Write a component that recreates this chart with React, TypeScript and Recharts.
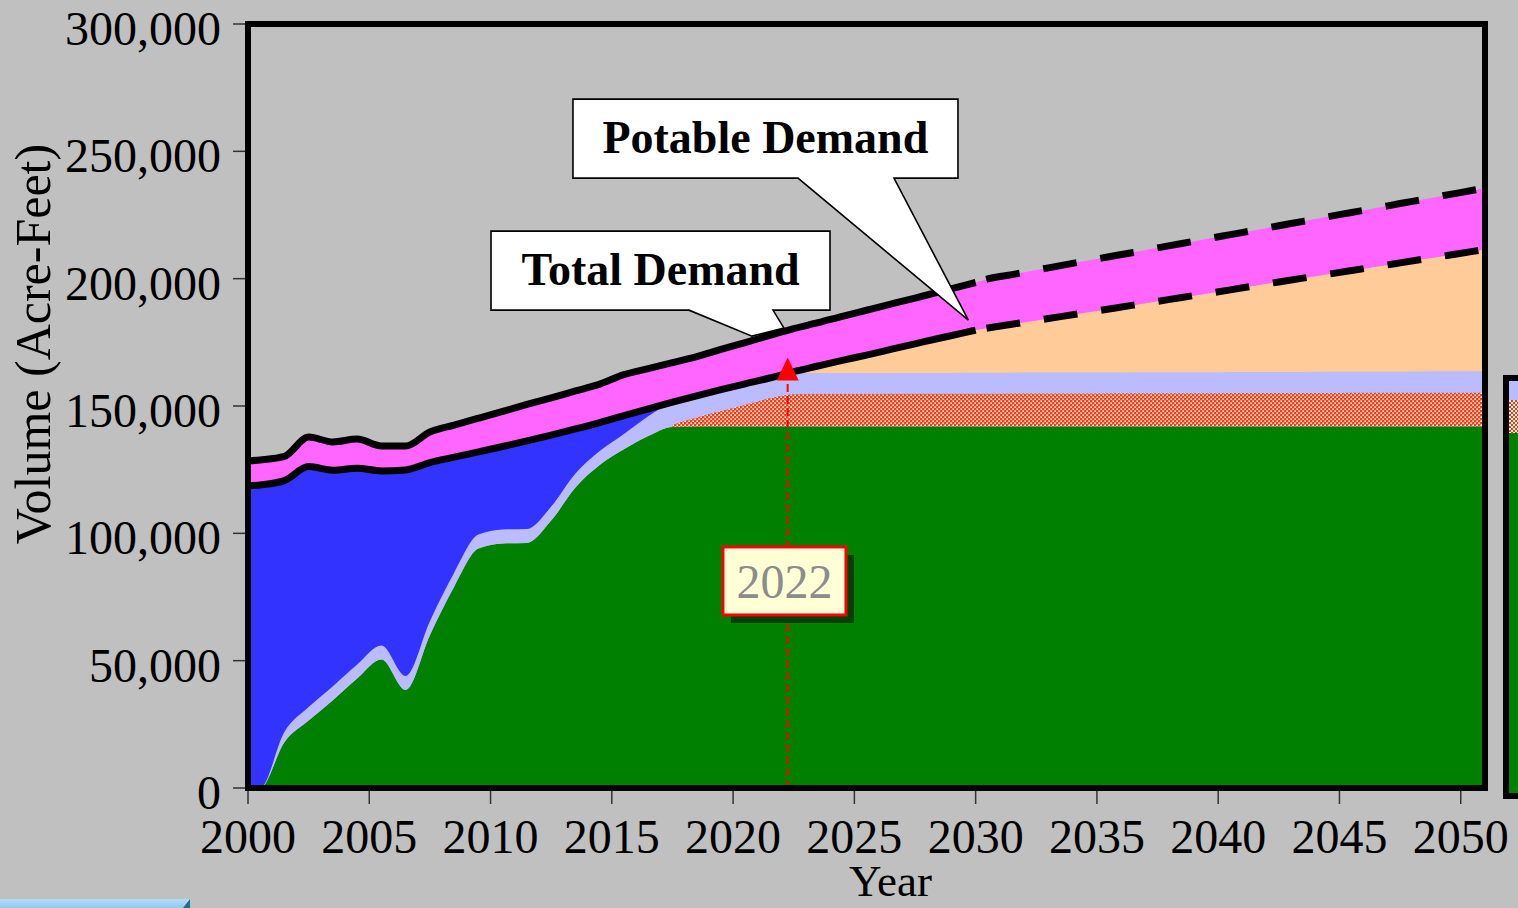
import React from 'react';
import {
  ComposedChart,
  Area,
  Line,
  XAxis,
  YAxis,
  ReferenceArea,
  ReferenceLine,
  ReferenceDot,
  Label,
} from 'recharts';

const FONT = "'Liberation Serif', 'Times New Roman', serif";

// x positions (year midpoints, plus the chart edges and the 2030 projection break)
const X_POS = [
  2000, 2000.5, 2001.5, 2002.5, 2003.5, 2004.5, 2005.5, 2006.5, 2007.5,
  2008.5, 2009.5, 2010.5, 2011.5, 2012.5, 2013.5, 2014.5, 2015.5, 2016.5, 2017.5,
  2018.5, 2019.5, 2020.5, 2021.5, 2022.5, 2023.5, 2024.5, 2025.5, 2026.5, 2027.5,
  2028.5, 2029.5, 2030,
  2030.5, 2031.5, 2032.5, 2033.5, 2034.5, 2035.5, 2036.5, 2037.5, 2038.5, 2039.5,
  2040.5, 2041.5, 2042.5, 2043.5, 2044.5, 2045.5, 2046.5, 2047.5, 2048.5, 2049.5, 2050.5,
  2051,
];

// Total demand (acre-feet)
const TOTAL_DEMAND = [
  128400, 128800, 130200, 137800, 135900, 137000, 134300, 134300, 139800,
  142500, 145200, 147900, 150600, 153200, 155900, 158600, 162300, 164700, 167000,
  169400, 172200, 174900, 177700, 180400, 182700, 185200, 187600, 190000, 192400,
  194800, 197300, 198500,
  199900, 201600, 203400, 205100, 206900, 208600, 210300, 212100, 213800, 215600,
  217300, 219000, 220800, 222500, 224300, 226000, 227700, 229500, 231200, 233000, 234700,
  235600,
];

// Potable demand (acre-feet)
const POTABLE_DEMAND = [
  118600, 119000, 120700, 126200, 124800, 125600, 124500, 124900, 127800,
  129900, 132000, 134100, 136300, 138600, 141000, 143500, 146200, 148900, 151500,
  154000, 156400, 158700, 161000, 163500, 165700, 167900, 170000, 172200, 174400,
  176600, 178700, 179800,
  180600, 182100, 183600, 185100, 186600, 188100, 189600, 191100, 192600, 194100,
  195600, 197200, 198700, 200200, 201700, 203200, 204700, 206200, 207700, 209200, 210700,
  211500,
];

// Green supply (top of green band)
const GREEN_SUPPLY = [
  0, 0, 18000, 26500, 34500, 43000, 50500, 38500, 60000,
  79000, 94000, 96000, 96200, 105000, 118000, 126800, 133000, 138200, 141800,
  142000, 142000, 142000, 142000, 142000, 142000, 142000, 142000, 142000, 142000,
  142000, 142000, 142000,
  142000, 142000, 142000, 142000, 142000, 142000, 142000, 142000, 142000, 142000,
  142000, 142000, 142000, 142000, 142000, 142000, 142000, 142000, 142000, 142000, 142000,
  142000,
];

// Lavender supply (top of lavender band, cumulative)
const LAVENDER_TOP = [
  0, 0, 22000, 31800, 40000, 48500, 56000, 44000, 65500,
  84500, 99500, 101500, 101700, 110500, 123500, 132300, 139000, 146000, 151500,
  154000, 156400, 158700, 161000, 163000, 163000, 163000, 163000, 163000, 163000,
  163000, 163100, 163100,
  163100, 163100, 163200, 163200, 163200, 163200, 163300, 163300, 163300, 163300,
  163400, 163400, 163400, 163400, 163500, 163500, 163500, 163500, 163600, 163600, 163600,
  163600,
];

// Hatched supply (top of hatched band, cumulative; starts in 2017)
const HATCH_TOP: (number | null)[] = [
  null, null, null, null, null, null, null, null, null,
  null, null, null, null, null, null, null, null, null, 142600,
  145500, 148000, 150500, 153000, 154600, 154700, 154700, 154700, 154800, 154800,
  154800, 154800, 154800,
  154800, 154900, 154900, 154900, 154900, 155000, 155000, 155000, 155000, 155000,
  155100, 155100, 155100, 155100, 155100, 155200, 155200, 155200, 155200, 155200, 155200,
  155200,
];

const X_TICKS = [2000, 2005, 2010, 2015, 2020, 2025, 2030, 2035, 2040, 2045, 2050];
const Y_TICKS = [0, 50000, 100000, 150000, 200000, 250000, 300000];
const PROJECTION_START = 2022.5;
const DASH_START = 2030;
const MARKER_YEAR = 2022.25;

const data = X_POS.map((x, i) => ({
  x,
  green: GREEN_SUPPLY[i],
  lav: [GREEN_SUPPLY[i], LAVENDER_TOP[i]],
  hatch: HATCH_TOP[i] == null ? null : [GREEN_SUPPLY[i], HATCH_TOP[i]],
  blue: x <= PROJECTION_START ? [LAVENDER_TOP[i], POTABLE_DEMAND[i]] : null,
  peach: x >= PROJECTION_START ? [LAVENDER_TOP[i], POTABLE_DEMAND[i]] : null,
  mag: [POTABLE_DEMAND[i], TOTAL_DEMAND[i]],
  totSolid: x <= DASH_START ? TOTAL_DEMAND[i] : null,
  totDash: x >= DASH_START ? TOTAL_DEMAND[i] : null,
  potSolid: x <= DASH_START ? POTABLE_DEMAND[i] : null,
  potDash: x >= DASH_START ? POTABLE_DEMAND[i] : null,
}));

const YTick = (props: any) => {
  const { x, y, payload } = props;
  return (
    <text x={x} y={y + 21} textAnchor="end" fontSize={48} fontFamily={FONT} fill="#000">
      {Number(payload.value).toLocaleString('en-US')}
    </text>
  );
};

const XTick = (props: any) => {
  const { x, y, payload } = props;
  return (
    <text x={x} y={y + 49} textAnchor="middle" fontSize={48} fontFamily={FONT} fill="#000">
      {payload.value}
    </text>
  );
};

const YLabel = (props: any) => {
  const vb = props.viewBox || { x: 0, y: 24, width: 248, height: 764 };
  const cx = vb.x + 50;
  const cy = vb.y + 320;
  return (
    <text
      x={cx}
      y={cy}
      textAnchor="middle"
      transform={`rotate(-90, ${cx}, ${cy})`}
      fontSize={50}
      fontFamily={FONT}
      fill="#000"
    >
      Volume (Acre-Feet)
    </text>
  );
};

const XLabel = (props: any) => {
  const vb = props.viewBox || { x: 248, y: 788, width: 1237, height: 120 };
  return (
    <text
      x={vb.x + vb.width / 2 + 24}
      y={vb.y + 108}
      textAnchor="middle"
      fontSize={45}
      fontFamily={FONT}
      fill="#000"
    >
      Year
    </text>
  );
};

const TotalCallout = (props: any) => {
  const { cx, cy } = props;
  const L = cx - 290.6;
  const R = cx + 48.4;
  const T = cy - 101;
  const B = cy - 22;
  const d = `M${L},${T} H${R} V${B} H${cx - 8.6} L${cx + 2.4},${cy - 4} L${cx - 29.6},${cy + 4} L${cx - 92.6},${B} H${L} Z`;
  return (
    <g>
      <path d={d} fill="#fff" stroke="#000" strokeWidth={1.6} />
      <text
        x={cx - 121}
        y={cy - 47}
        textAnchor="middle"
        fontSize={46}
        fontWeight="bold"
        fontFamily={FONT}
        fill="#000"
      >
        Total Demand
      </text>
    </g>
  );
};

const PotableCallout = (props: any) => {
  const { cx, cy } = props;
  const L = cx - 395.4;
  const R = cx - 10.4;
  const T = cy - 233;
  const B = cy - 154;
  const d = `M${L},${T} H${R} V${B} H${cx - 74.4} L${cx},${cy - 12} L${cx - 170.4},${B} H${L} Z`;
  return (
    <g>
      <path d={d} fill="#fff" stroke="#000" strokeWidth={1.6} />
      <text
        x={cx - 203}
        y={cy - 179}
        textAnchor="middle"
        fontSize={46}
        fontWeight="bold"
        fontFamily={FONT}
        fill="#000"
      >
        Potable Demand
      </text>
    </g>
  );
};

const MarkerTriangle = (props: any) => {
  const { cx, cy } = props;
  return <path d={`M${cx - 11},${cy} L${cx + 11},${cy} L${cx},${cy - 23} Z`} fill="#FF0000" />;
};

const YearBox = (props: any) => {
  const { cx, cy } = props;
  const x = cx - 64.7;
  const y = cy - 34;
  const w = 123;
  const h = 68;
  return (
    <g>
      <rect x={x + 8} y={y + 8} width={w} height={h} fill="#004000" />
      <rect x={x} y={y} width={w} height={h} fill="#FFFFD6" stroke="#FF0000" strokeWidth={3} />
      <text
        x={cx - 3.2}
        y={cy + 17}
        textAnchor="middle"
        fontSize={48}
        fontFamily={FONT}
        fill="#8C8C8C"
      >
        2022
      </text>
    </g>
  );
};

export default function App() {
  return (
    <div
      style={{
        position: 'fixed',
        left: 0,
        top: 0,
        width: 1518,
        height: 908,
        background: '#C0C0C0',
        overflow: 'hidden',
        fontFamily: FONT,
      }}
    >
      {/* partial legend box at the right edge */}
      <div style={{ position: 'absolute', left: 1503, top: 375, width: 40, height: 424, background: '#000' }}>
        <div style={{ position: 'absolute', left: 5.5, top: 5.5, width: 30, height: 19.5, background: '#BBBBFF' }} />
        <div
          style={{
            position: 'absolute',
            left: 5.5,
            top: 25,
            width: 30,
            height: 33,
            backgroundImage: 'repeating-conic-gradient(#FF3300 0 25%, #ffffff 0 50%)',
            backgroundSize: '4px 4px',
          }}
        />
        <div style={{ position: 'absolute', left: 5.5, top: 58, width: 30, height: 360, background: '#008000' }} />
      </div>

      {/* light-blue slide element at bottom-left */}
      <div
        style={{
          position: 'absolute',
          left: 0,
          top: 899,
          width: 190,
          height: 9,
          background: 'linear-gradient(#B4DDF6, #93C8EC)',
        }}
      />
      <div
        style={{
          position: 'absolute',
          left: 183,
          top: 899,
          width: 7,
          height: 9,
          background: '#1E6E8E',
          clipPath: 'polygon(100% 0, 100% 100%, 0 100%)',
        }}
      />

      <div style={{ position: 'absolute', left: 0, top: 0 }}>
        <ComposedChart
          width={1518}
          height={908}
          data={data}
          margin={{ top: 24, right: 33, bottom: 0, left: 0 }}
        >
          <defs>
            <pattern id="hatchPat" x="0" y="0" width="4" height="4" patternUnits="userSpaceOnUse">
              <rect x="0" y="0" width="4" height="4" fill="#FF3A10" />
              <rect x="0.4" y="0.4" width="1.6" height="1.6" fill="#FFFFFF" />
              <rect x="2.4" y="2.4" width="1.6" height="1.6" fill="#FFFFFF" />
            </pattern>
          </defs>
          <XAxis
            dataKey="x"
            type="number"
            domain={[2000, 2051]}
            ticks={X_TICKS}
            interval={0}
            allowDataOverflow
            height={120}
            axisLine={false}
            tickSize={16}
            tickMargin={0}
            tickLine={{ stroke: '#333', strokeWidth: 1.5 }}
            tick={<XTick />}
          >
            <Label content={<XLabel />} />
          </XAxis>
          <YAxis
            type="number"
            domain={[0, 300000]}
            ticks={Y_TICKS}
            interval={0}
            allowDataOverflow
            width={248}
            axisLine={false}
            tickSize={15}
            tickMargin={12}
            tickLine={{ stroke: '#333', strokeWidth: 1.5 }}
            tick={<YTick />}
          >
            <Label content={<YLabel />} />
          </YAxis>

          <Area dataKey="green" type="monotone" fill="#008000" fillOpacity={1} stroke="none" isAnimationActive={false} />
          <Area dataKey="lav" type="monotone" fill="#BBBBFF" fillOpacity={1} stroke="none" isAnimationActive={false} />
          <Area dataKey="hatch" type="monotone" fill="url(#hatchPat)" fillOpacity={1} stroke="none" isAnimationActive={false} />
          <Area dataKey="blue" type="monotone" fill="#3333FF" fillOpacity={1} stroke="none" isAnimationActive={false} />
          <Area dataKey="peach" type="monotone" fill="#FFCC99" fillOpacity={1} stroke="none" isAnimationActive={false} />
          <Area dataKey="mag" type="monotone" fill="#FF66FF" fillOpacity={1} stroke="none" isAnimationActive={false} />

          <ReferenceLine
            segment={[
              { x: MARKER_YEAR, y: 0 },
              { x: MARKER_YEAR, y: 160000 },
            ]}
            stroke="#FF0000"
            strokeWidth={2}
            strokeDasharray="8 4"
            zIndex={450}
          />

          <Line dataKey="totSolid" type="monotone" stroke="#000" strokeWidth={7} dot={false} strokeLinejoin="round" isAnimationActive={false} />
          <Line dataKey="potSolid" type="monotone" stroke="#000" strokeWidth={7} dot={false} strokeLinejoin="round" isAnimationActive={false} />
          <Line dataKey="totDash" type="monotone" stroke="#000" strokeWidth={7} strokeDasharray="34 24" strokeDashoffset={47} dot={false} isAnimationActive={false} />
          <Line dataKey="potDash" type="monotone" stroke="#000" strokeWidth={7} strokeDasharray="34 24" strokeDashoffset={47} dot={false} isAnimationActive={false} />

          <ReferenceDot x={MARKER_YEAR} y={160000} r={1} shape={<MarkerTriangle />} zIndex={700} />
          <ReferenceDot x={MARKER_YEAR} y={81300} r={1} shape={<YearBox />} zIndex={700} />

          <ReferenceArea
            x1={2000}
            x2={2051}
            y1={0}
            y2={300000}
            fill="none"
            fillOpacity={0}
            stroke="#000"
            strokeWidth={6}
            zIndex={1500}
          />

          <ReferenceDot x={2022} y={179000} r={1} shape={<TotalCallout />} zIndex={1600} />
          <ReferenceDot x={2029.7} y={179000} r={1} shape={<PotableCallout />} zIndex={1600} />
        </ComposedChart>
      </div>
    </div>
  );
}
